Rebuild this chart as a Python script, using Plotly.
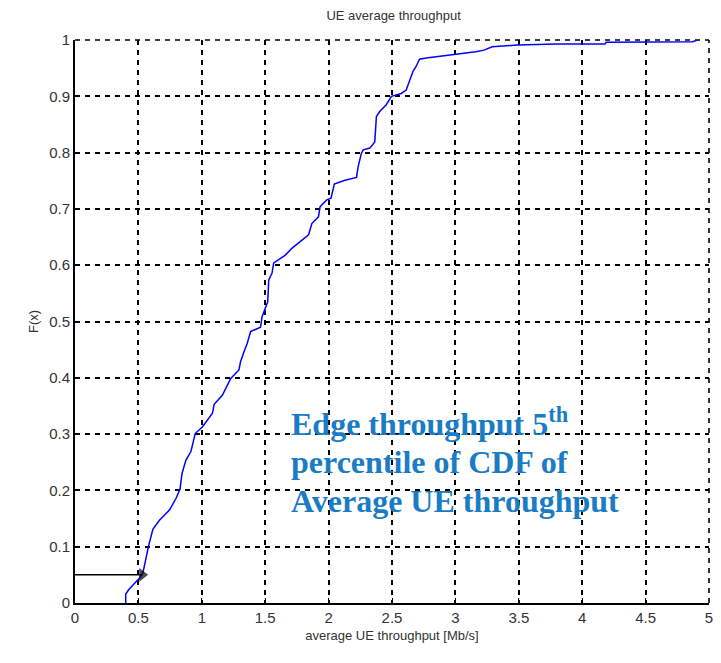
import plotly.graph_objects as go

# Empirical CDF of the average UE throughput
throughput_mbps = [0.40, 0.40, 0.425, 0.47, 0.50, 0.535, 0.56, 0.58, 0.614, 0.666,
                   0.745, 0.797, 0.828, 0.844, 0.875, 0.914, 0.948, 1.006, 1.084, 1.097,
                   1.162, 1.20, 1.228, 1.293, 1.306, 1.332, 1.358, 1.385, 1.463, 1.476,
                   1.502, 1.52, 1.528, 1.554, 1.567, 1.659, 1.71, 1.79, 1.842, 1.868,
                   1.92, 1.933, 1.985, 2.019, 2.045, 2.129, 2.22, 2.233, 2.259, 2.273,
                   2.325, 2.364, 2.377, 2.403, 2.455, 2.495, 2.573, 2.612, 2.638, 2.665,
                   2.69, 2.717, 2.77, 2.913, 3.043, 3.16, 3.226, 3.29, 3.487, 3.80,
                   4.18, 4.19, 4.87, 4.91]
cdf = [0.0, 0.016, 0.024, 0.034, 0.042, 0.053, 0.082, 0.101, 0.131, 0.147,
       0.165, 0.186, 0.202, 0.230, 0.254, 0.269, 0.301, 0.313, 0.337, 0.353,
       0.369, 0.387, 0.399, 0.414, 0.429, 0.446, 0.461, 0.482, 0.490, 0.509,
       0.523, 0.535, 0.574, 0.586, 0.604, 0.618, 0.630, 0.645, 0.654, 0.674,
       0.686, 0.704, 0.716, 0.719, 0.744, 0.751, 0.756, 0.775, 0.799, 0.805,
       0.808, 0.819, 0.864, 0.873, 0.885, 0.900, 0.905, 0.911, 0.929, 0.944,
       0.953, 0.966, 0.968, 0.972, 0.975, 0.979, 0.982, 0.988, 0.991, 0.993,
       0.993, 0.996, 0.997, 1.0]

# 5th percentile (edge throughput) marker
edge_percentile = 0.05
edge_throughput = 0.53

x_ticks = [0, 0.5, 1, 1.5, 2, 2.5, 3, 3.5, 4, 4.5, 5]
x_tick_labels = ["0", "0.5", "1", "1.5", "2", "2.5", "3", "3.5", "4", "4.5", "5"]
y_ticks = [0, 0.1, 0.2, 0.3, 0.4, 0.5, 0.6, 0.7, 0.8, 0.9, 1]
y_tick_labels = ["0", "0.1", "0.2", "0.3", "0.4", "0.5", "0.6", "0.7", "0.8", "0.9", "1"]

note_lines = ["Edge throughput 5<sup>th</sup>",
              "percentile of CDF of",
              "Average UE throughput"]
note_y = [0.322, 0.250, 0.182]

GRID_DASH = "5px,5px"

fig = go.Figure()
fig.add_trace(go.Scatter(x=throughput_mbps, y=cdf, mode="lines",
                         line=dict(color="#0000ff", width=1.5), showlegend=False))

# horizontal pointer from the F(x) axis to the 5th percentile
fig.add_trace(go.Scatter(x=[0, edge_throughput], y=[edge_percentile, edge_percentile],
                         mode="lines+markers",
                         line=dict(color="black", width=1.5),
                         marker=dict(symbol=["circle", "triangle-right"], size=[0, 12],
                                     color="black", line=dict(width=0)),
                         showlegend=False))

for line, yy in zip(note_lines, note_y):
    fig.add_annotation(x=1.685, y=yy, xref="x", yref="y", text="<b>" + line + "</b>",
                       showarrow=False, xanchor="left", yanchor="middle",
                       font=dict(family="Liberation Serif", size=32, color="#1a7cc4"))

# dashed grid along the upper and right borders of the axes box
fig.add_shape(type="line", xref="x domain", yref="y domain", x0=0, x1=1, y0=1, y1=1,
              line=dict(color="black", width=1.6, dash=GRID_DASH), layer="below")
fig.add_shape(type="line", xref="x domain", yref="y domain", x0=1, x1=1, y0=0, y1=1,
              line=dict(color="black", width=1.6, dash=GRID_DASH), layer="below")

axis_common = dict(showline=True, linecolor="black", linewidth=1.8, mirror=False,
                   showgrid=True, gridcolor="black", gridwidth=1.6, griddash=GRID_DASH,
                   ticks="inside", ticklen=5, tickcolor="black", zeroline=False,
                   tickfont=dict(family="Liberation Sans", size=15, color="#333333"))

fig.update_xaxes(range=[0, 5], tickvals=x_ticks, ticktext=x_tick_labels,
                 title=dict(text="average UE throughput [Mb/s]", standoff=6,
                            font=dict(family="Liberation Sans", size=13, color="#333333")),
                 **axis_common)
fig.update_yaxes(range=[0, 1], tickvals=y_ticks, ticktext=y_tick_labels,
                 title=dict(text="F(x)", standoff=8,
                            font=dict(family="Liberation Sans", size=13, color="#333333")),
                 **axis_common)

fig.update_layout(
    width=721, height=663,
    margin=dict(l=75, r=8, t=40, b=60),
    paper_bgcolor="white", plot_bgcolor="white",
    title=dict(text="UE average throughput", x=0.546, xanchor="center", y=0.977,
               yanchor="middle",
               font=dict(family="Liberation Sans", size=13, color="#333333")),
)

fig.write_html("out.html")
